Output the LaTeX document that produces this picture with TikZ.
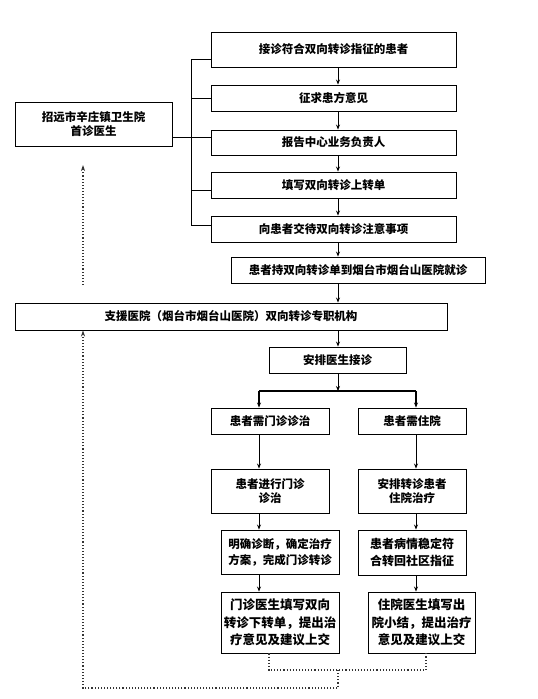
\documentclass[tikz,border=0pt]{standalone}
\usepackage{fontspec}
\setmainfont{Noto Sans CJK SC}
\usetikzlibrary{arrows.meta}
\tikzset{
  box/.style={draw=black, line width=0.9pt, fill=white, inner sep=0pt, align=center,
    font=\bfseries\fontsize{11.5}{14}\selectfont},
  bigtxt/.style={font=\bfseries\fontsize{12.5}{17.5}\selectfont},
  arr/.style={line width=0.9pt, -{Stealth[length=5pt,width=4pt]}},
  ln/.style={line width=0.9pt},
  thick ln/.style={line width=1.8pt},
  dot/.style={dotted, line width=1.1pt, black!80},
  dotarr/.style={dot, -{Stealth[length=6pt,width=4pt]}}
}
\begin{document}
\begin{tikzpicture}[x=1pt,y=-1pt]
\useasboundingbox (0,0) rectangle (538,699);
% top column
\node[box, minimum width=245, minimum height=35] (b1) at (333.5,49.5) {接诊符合双向转诊指征的患者};
\node[box, minimum width=245, minimum height=26] (b2) at (333.5,98) {征求患方意见};
\node[box, minimum width=245, minimum height=25] (b3) at (333.5,142.5) {报告中心业务负责人};
\node[box, minimum width=245, minimum height=26] (b4) at (333.5,185) {填写双向转诊上转单};
\node[box, minimum width=245, minimum height=26] (b5) at (333.5,229) {向患者交待双向转诊注意事项};
\node[box, minimum width=254, minimum height=26] (b6) at (358,270) {患者持双向转诊单到烟台市烟台山医院就诊};
\node[box, minimum width=157, minimum height=44] (left) at (93.5,124) {招远市辛庄镇卫生院\\首诊医生};
\node[box, minimum width=432, minimum height=27] (big) at (231,316.5) {支援医院（烟台市烟台山医院）双向转诊专职机构};
\node[box, minimum width=137, minimum height=26] (arr) at (337.5,360) {安排医生接诊};
\node[box, minimum width=118, minimum height=26] (op1) at (270,421) {患者需门诊诊治};
\node[box, minimum width=108, minimum height=26] (ip1) at (412,421) {患者需住院};
\node[box, minimum width=118, minimum height=44] (op2) at (270,491) {患者进行门诊\\诊治};
\node[box, minimum width=108, minimum height=44] (ip2) at (412,491) {安排转诊患者\\住院治疗};
\node[box, minimum width=118, minimum height=44, font=\bfseries\fontsize{11.5}{16}\selectfont] (op3) at (280,552) {明确诊断，确定治疗\\方案，完成门诊转诊};
\node[box, minimum width=108, minimum height=45, align=left, font=\bfseries\fontsize{12}{17}\selectfont] (ip3) at (412,552.5) {患者病情稳定符\\合转回社区指征};
\node[box, bigtxt, minimum width=118, minimum height=61] (op4) at (280,622.5) {门诊医生填写双向\\转诊下转单，提出治\\疗意见及建议上交};
\node[box, bigtxt, minimum width=107, minimum height=61] (ip4) at (421.5,622.5) {住院医生填写出\\院小结，提出治疗\\意见及建议上交};
% helper coordinates
\coordinate (cx) at (338,0);
\coordinate (bx) at (191,0);
\coordinate (lx) at (259,0);
\coordinate (rx) at (416,0);
\coordinate (fork) at (338,391);
\coordinate (dx) at (83,0);
\coordinate (d1s) at (83,285);
\coordinate (d1e) at (83,165);
\coordinate (oq) at (269,0);
\coordinate (iq) at (426,0);
\coordinate (dj) at (338,670);
\coordinate (dk) at (338,688);
% bracket
\draw[ln] (b1.west |- 0,59) -- (bx |- 0,59) -- (bx |- 0,225) -- (b5.west |- 0,225);
\draw[ln] (bx |- b2.west) -- (b2.west);
\draw[ln] (bx |- 0,190) -- (b4.west |- 0,190);
\draw[ln] (left.east |- 0,137) -- (b3.west |- 0,137);
% arrows in column
\draw[arr] (b1.south -| cx) -- (b2.north -| cx);
\draw[arr] (b2.south -| cx) -- (b3.north -| cx);
\draw[arr] (b3.south -| cx) -- (b4.north -| cx);
\draw[arr] (b4.south -| cx) -- (b5.north -| cx);
\draw[arr] (b5.south -| cx) -- (b6.north -| cx);
\draw[arr] (b6.south -| cx) -- (big.north -| cx);
\draw[arr] (big.south -| cx) -- (arr.north -| cx);
\draw[arr] (arr.south -| cx) -- (fork);
% branch
\draw[thick ln] (lx |- fork) -- (rx |- fork);
\draw[arr, line width=1.5pt] (lx |- fork) -- (op1.north -| lx);
\draw[arr, line width=1.5pt] (rx |- fork) -- (ip1.north -| rx);
\draw[arr] (op1.south -| lx) -- (op2.north -| lx);
\draw[arr] (ip1.south -| rx) -- (ip2.north -| rx);
\draw[arr] (op2.south -| lx) -- (op3.north -| lx);
\draw[arr] (ip2.south -| rx) -- (ip3.north -| rx);
\draw[arr] (op3.south -| lx) -- (op4.north -| lx);
\draw[arr] (ip3.south -| rx) -- (ip4.north -| rx);
% dotted feedback
\draw[dotarr] (d1s) -- (d1e);
\draw[dot] (op4.south -| oq) -- (oq |- dj) -- (iq |- dj) -- (ip4.south -| iq);
\draw[dotarr] (dj) -- (dk) -- (dx |- dk) -- (big.south -| dx);
\end{tikzpicture}
\end{document}
